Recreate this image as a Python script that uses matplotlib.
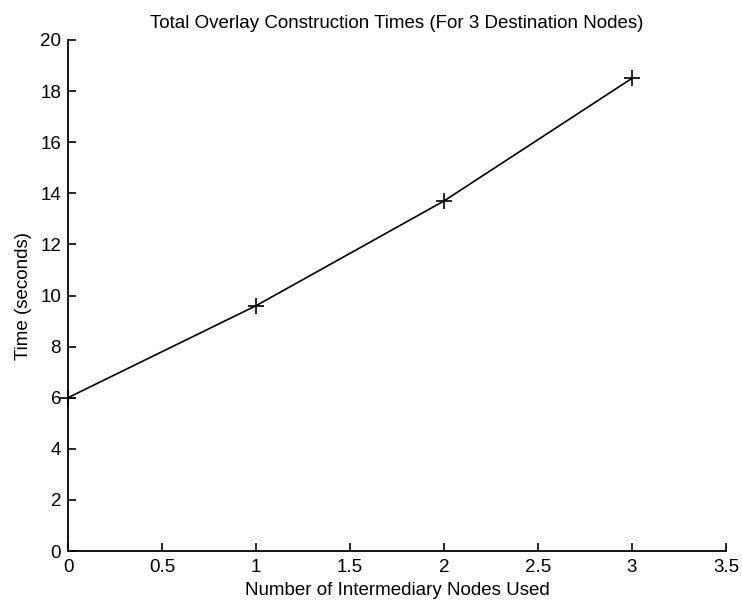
import matplotlib
matplotlib.use("Agg")
import matplotlib.pyplot as plt

nodes = [0, 1, 2, 3]
times = [6.0, 9.6, 13.7, 18.5]
xticks = [0, 0.5, 1, 1.5, 2, 2.5, 3, 3.5]
yticks = [0, 2, 4, 6, 8, 10, 12, 14, 16, 18, 20]

plt.rcParams['font.family'] = ['Liberation Sans', 'DejaVu Sans']
plt.rcParams['font.size'] = 13

W, H = 742, 607
fig = plt.figure(figsize=(W / 100, H / 100), dpi=100)
left, right, top, bottom = 68, 726, 40, 551
ax = fig.add_axes([left / W, (H - bottom) / H, (right - left) / W, (bottom - top) / H])
ax.plot(nodes, times, color='black', linewidth=1.2, marker='+', markersize=11,
        markeredgewidth=1.2, clip_on=False)
ax.set_xlim(0, 3.5)
ax.set_ylim(0, 20)
ax.set_xticks(xticks)
ax.set_xticklabels([f"{t:g}" for t in xticks])
ax.set_yticks(yticks)
ax.set_yticklabels([f"{t:g}" for t in yticks])
ax.tick_params(direction='in', length=6, width=1.2, colors='black', labelsize=13.5)
ax.tick_params(axis='x', pad=6)
ax.tick_params(axis='y', pad=5)
ax.spines['top'].set_visible(False)
ax.spines['right'].set_visible(False)
ax.spines['left'].set_linewidth(1.3)
ax.spines['bottom'].set_linewidth(1.3)
ax.set_xlabel('Number of Intermediary Nodes Used', fontsize=13.5, labelpad=4)
ax.set_ylabel('Time (seconds)', fontsize=13.5, labelpad=6)
ax.set_title('Total Overlay Construction Times (For 3 Destination Nodes)', fontsize=13.5, pad=9)
fig.savefig('out.png', dpi=100)
